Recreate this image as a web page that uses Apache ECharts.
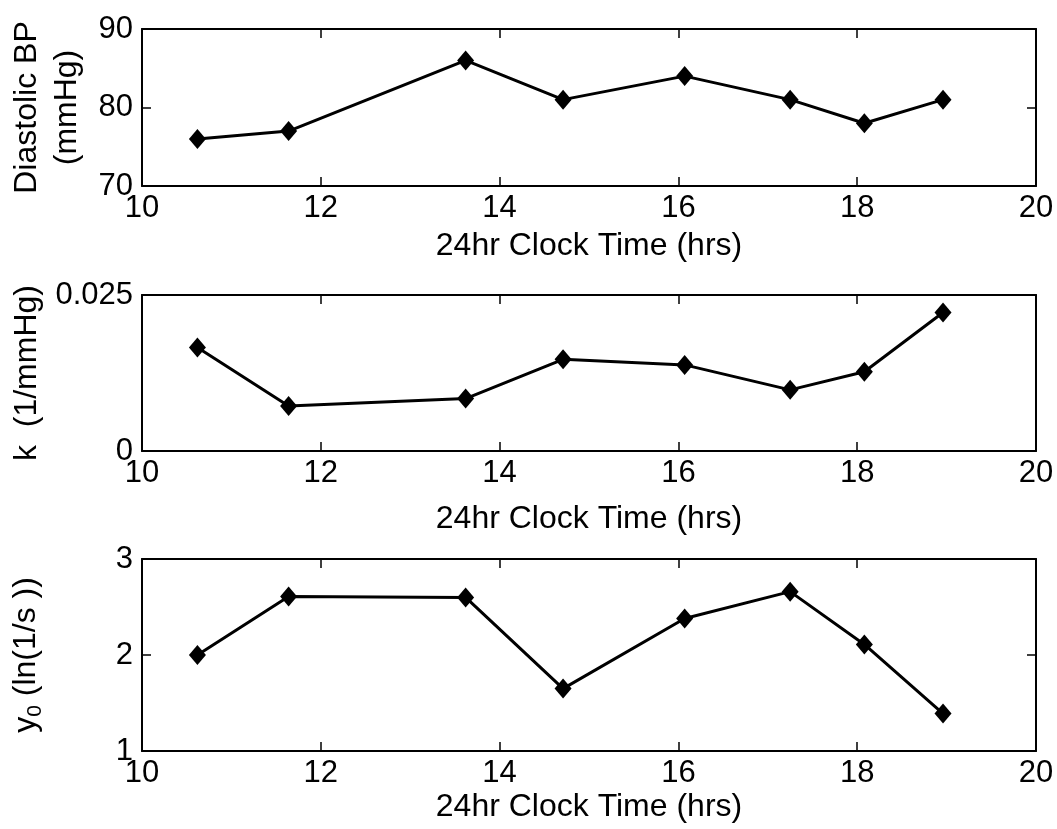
<!DOCTYPE html>
<html>
<head>
<meta charset="utf-8">
<title>Diastolic BP, k and y0 over the day</title>
<script src="https://cdn.jsdelivr.net/npm/echarts@6/dist/echarts.min.js"></script>
<style>
  html, body { margin: 0; padding: 0; background: #ffffff; }
  #chart { width: 1057px; height: 829px; }
</style>
</head>
<body>
<div id="chart"></div>
<script>
// Measurement times (24 h clock, hours)
const clockTimes = [10.62, 11.64, 13.62, 14.71, 16.07, 17.25, 18.08, 18.96];
// Diastolic blood pressure (mmHg)
const diastolicBP = [76, 77, 86, 81, 84, 81, 78, 81];
// Stiffness parameter k (1/mmHg)
const kValues = [0.0166, 0.0072, 0.0084, 0.0147, 0.0138, 0.0098, 0.0127, 0.0222];
// Intercept y0 (ln(1/s))
const y0Values = [2.0, 2.61, 2.60, 1.65, 2.38, 2.66, 2.11, 1.39];

const xTitle = '24hr Clock Time (hrs)';
const FONT = '"Liberation Sans", Arial, sans-serif';
const TICK_SIZE = 31;
const TITLE_SIZE = 32;

const chart = echarts.init(document.getElementById('chart'), null, { renderer: 'canvas' });

// three stacked panels; keep the plot boxes fixed regardless of label extents
const grids = [
  { left: 142, top: 29, width: 894, height: 157, containLabel: false, outerBoundsMode: 'none' },
  { left: 142, top: 295, width: 894, height: 156, containLabel: false, outerBoundsMode: 'none' },
  { left: 142, top: 559, width: 894, height: 192, containLabel: false, outerBoundsMode: 'none' }
];
const titleGaps = [44, 52, 40];

const lineStyle = { color: '#000', width: 2 };
const tickStyle = { color: '#000', width: 1.5 };

const xAxes = [];
const yAxes = [];

grids.forEach((g, i) => {
  // bottom axis with labels and title
  xAxes.push({
    type: 'value', gridIndex: i, position: 'bottom',
    min: 10, max: 20, interval: 2,
    axisLine: { show: true, onZero: false, lineStyle },
    axisTick: { show: true, inside: true, length: 9, lineStyle: tickStyle },
    axisLabel: { show: true, color: '#000', fontSize: TICK_SIZE, fontFamily: FONT, margin: 7 },
    splitLine: { show: false },
    name: xTitle, nameLocation: 'middle', nameGap: titleGaps[i],
    nameTextStyle: { color: '#000', fontSize: TITLE_SIZE, fontFamily: FONT }
  });
  // top frame edge with inward ticks
  xAxes.push({
    type: 'value', gridIndex: i, position: 'top',
    min: 10, max: 20, interval: 2,
    axisLine: { show: true, onZero: false, lineStyle },
    axisTick: { show: true, inside: true, length: 9, lineStyle: tickStyle },
    axisLabel: { show: false },
    splitLine: { show: false }
  });
});

const yRanges = [
  { min: 70, max: 90, interval: 10 },
  { min: 0, max: 0.025, interval: 0.025 },
  { min: 1, max: 3, interval: 1 }
];
const yNames = [
  'Diastolic BP\n(mmHg)',
  'k  (1/mmHg)',
  '{v|y}{s|0}{v| (ln(1/s ))}'
];
const yNameGaps = [46, 98, 96];

yRanges.forEach((r, i) => {
  const nameStyle = {
    color: '#000', fontSize: TITLE_SIZE, fontFamily: FONT,
    lineHeight: i === 0 ? 40 : 34, align: 'center'
  };
  if (i === 2) {
    nameStyle.rich = {
      v: { fontSize: TITLE_SIZE, fontFamily: FONT, color: '#000', lineHeight: 40, verticalAlign: 'middle' },
      s: { fontSize: 21, fontFamily: FONT, color: '#000', lineHeight: 40, verticalAlign: 'bottom' }
    };
  }
  yAxes.push({
    type: 'value', gridIndex: i, position: 'left',
    min: r.min, max: r.max, interval: r.interval,
    axisLine: { show: true, onZero: false, lineStyle },
    axisTick: { show: true, inside: true, length: 9, lineStyle: tickStyle },
    axisLabel: {
      show: true, color: '#000', fontSize: TICK_SIZE, fontFamily: FONT, margin: 9,
      padding: [5, 0, 0, 0]
    },
    splitLine: { show: false },
    name: yNames[i], nameLocation: 'middle', nameRotate: 90, nameGap: yNameGaps[i],
    nameTextStyle: nameStyle
  });
  yAxes.push({
    type: 'value', gridIndex: i, position: 'right',
    min: r.min, max: r.max, interval: r.interval,
    axisLine: { show: true, onZero: false, lineStyle },
    axisTick: { show: true, inside: true, length: 9, lineStyle: tickStyle },
    axisLabel: { show: false },
    splitLine: { show: false }
  });
});

const seriesValues = [diastolicBP, kValues, y0Values];
const series = seriesValues.map((vals, i) => ({
  type: 'line',
  xAxisIndex: i * 2,
  yAxisIndex: i * 2,
  data: clockTimes.map((t, j) => [t, vals[j]]),
  symbol: 'diamond',
  symbolSize: [17, 20],
  showSymbol: true,
  lineStyle: { color: '#000', width: 3 },
  itemStyle: { color: '#000' },
  z: 3
}));

chart.setOption({
  animation: false,
  backgroundColor: '#ffffff',
  grid: grids,
  xAxis: xAxes,
  yAxis: yAxes,
  series
});
</script>
</body>
</html>
